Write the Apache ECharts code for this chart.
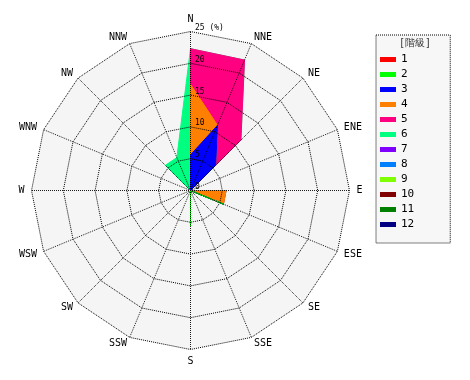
<!DOCTYPE html>
<html>
<head>
<meta charset="utf-8">
<script src="https://cdn.jsdelivr.net/npm/echarts@6/dist/echarts.min.js"></script>
<style>html,body{margin:0;padding:0;background:#fff}#c{width:470px;height:380px}</style>
</head>
<body>
<div id="c"></div>
<script>
// Directions, compass order (clockwise from N)
const directions = ['N','NNE','NE','ENE','E','ESE','SE','SSE','S','SSW','SW','WSW','W','WNW','NW','NNW'];
// Class names (階級)
const classNames = ['1','2','3','4','5','6','7','8','9','10','11','12'];
const classColors = ['#ff0000','#00ff00','#0000ff','#ff8000','#ff0080','#00ff80','#8000ff','#0080ff','#80ff00','#800000','#008000','#000080'];
// Frequency (%) per class and direction
const class1  = [0,0,0,0,0,0,0,0,0,0,0,0,0,0,0,0];
const class2  = [0,0,0,0,0,5.6,0,0,5.6,0,0,0,0,0,0,0];
const class3  = [5.6,11.1,5.6,0,0,0,0,0,0,0,0,0,0,0,0,0];
const class4  = [11.1,0,0,0,5.6,0,0,0,0,0,0,0,0,0,0,0];
const class5  = [5.6,11.1,5.6,0,0,0,0,0,0,0,0,0,0,0,0,0];
const class6  = [0,0,0,0,0,0,0,0,0,0,0,0,0,0,5.6,5.6];
const class7  = [0,0,0,0,0,0,0,0,0,0,0,0,0,0,0,0];
const class8  = [0,0,0,0,0,0,0,0,0,0,0,0,0,0,0,0];
const class9  = [0,0,0,0,0,0,0,0,0,0,0,0,0,0,0,0];
const class10 = [0,0,0,0,0,0,0,0,0,0,0,0,0,0,0,0];
const class11 = [0,0,0,0,0,0,0,0,0,0,0,0,0,0,0,0];
const class12 = [0,0,0,0,0,0,0,0,0,0,0,0,0,0,0,0];
// Radial tick labels
const radiusTicks = [0,5,10,15,20,25];
const radiusLabels = ['0','5','10','15','20','25 (%)'];
const radiusMax = 25;

const classes = [class1,class2,class3,class4,class5,class6,class7,class8,class9,class10,class11,class12];

// cumulative (stacked) values
const cum = [];
classes.forEach((arr, k) => {
  cum.push(arr.map((v, d) => v + (k > 0 ? cum[k-1][d] : 0)));
});
// ECharts radar goes counter-clockwise: reorder so that the rose reads clockwise
const order = [0].concat(directions.map((_, i) => i).slice(1).reverse());
const reorder = arr => order.map(i => arr[i]);

const FONT = 'DejaVu Sans Mono';
const CENTER = [190.5, 190.5];
const RADIUS = 159;
const DOT_RING = { color: '#000', width: 1, type: [1, 1] };
const DOT_SPOKE = { color: '#000', width: 1, type: [0.1, 1.9], cap: 'round' };

const series = [];
for (let k = classes.length - 1; k >= 0; k--) {
  const visible = classes[k].some(v => v > 0);
  series.push({
    type: 'radar',
    radarIndex: 0,
    name: classNames[k],
    symbol: 'none',
    silent: true,
    itemStyle: { color: classColors[k] },
    lineStyle: { color: classColors[k], width: 1, opacity: visible ? 1 : 0 },
    areaStyle: { color: classColors[k], opacity: visible ? 1 : 0 },
    data: [{ name: classNames[k], value: reorder(cum[k]) }]
  });
}

const indicators = reorder(directions).map(n => ({ name: n, max: radiusMax, min: 0 }));

const chart = echarts.init(document.getElementById('c'), null, { renderer: 'canvas' });
chart.setOption({
  animation: false,
  backgroundColor: '#ffffff',
  title: {
    text: '[階級]', left: 399, top: 38, padding: 0, z: 20,
    textStyle: { fontSize: 10, fontWeight: 'normal', color: '#333', fontFamily: FONT }
  },
  legend: {
    orient: 'vertical', left: 376, top: 35,
    padding: [19, 36, 13, 4],
    itemWidth: 16, itemHeight: 5, itemGap: 4,
    icon: 'rect', selectedMode: false,
    backgroundColor: '#f7f7f7',
    borderColor: '#000', borderWidth: 1, borderType: 'dotted',
    textStyle: { fontSize: 11, color: '#000', fontFamily: FONT },
    data: classNames
  },
  radar: [
    {
      center: CENTER, radius: RADIUS, shape: 'polygon', splitNumber: 5, startAngle: 90,
      indicator: indicators, z: 0,
      axisName: { show: false },
      axisLine: { show: false }, splitLine: { show: false },
      splitArea: { show: true, areaStyle: { color: ['#f5f5f5'] } }
    },
    {
      center: CENTER, radius: RADIUS, shape: 'polygon', splitNumber: 5, startAngle: 90,
      indicator: indicators, z: 10, nameGap: 7,
      axisName: { color: '#000', fontSize: 10, fontFamily: FONT },
      axisLine: { lineStyle: DOT_SPOKE },
      splitLine: { lineStyle: DOT_RING },
      splitArea: { show: false }
    }
  ],
  grid: { left: 190, top: 32, width: 10, height: RADIUS, containLabel: false },
  xAxis: { type: 'value', show: false, min: 0, max: 1 },
  yAxis: {
    type: 'value', min: 0, max: radiusMax, interval: 5, z: 12,
    axisLine: { show: false }, axisTick: { show: false }, splitLine: { show: false },
    axisLabel: {
      inside: true, margin: 5, verticalAlign: 'bottom', color: '#000', fontSize: 8, fontFamily: FONT,
      formatter: v => radiusLabels[radiusTicks.indexOf(v)]
    }
  },
  series: series
});
</script>
</body>
</html>
